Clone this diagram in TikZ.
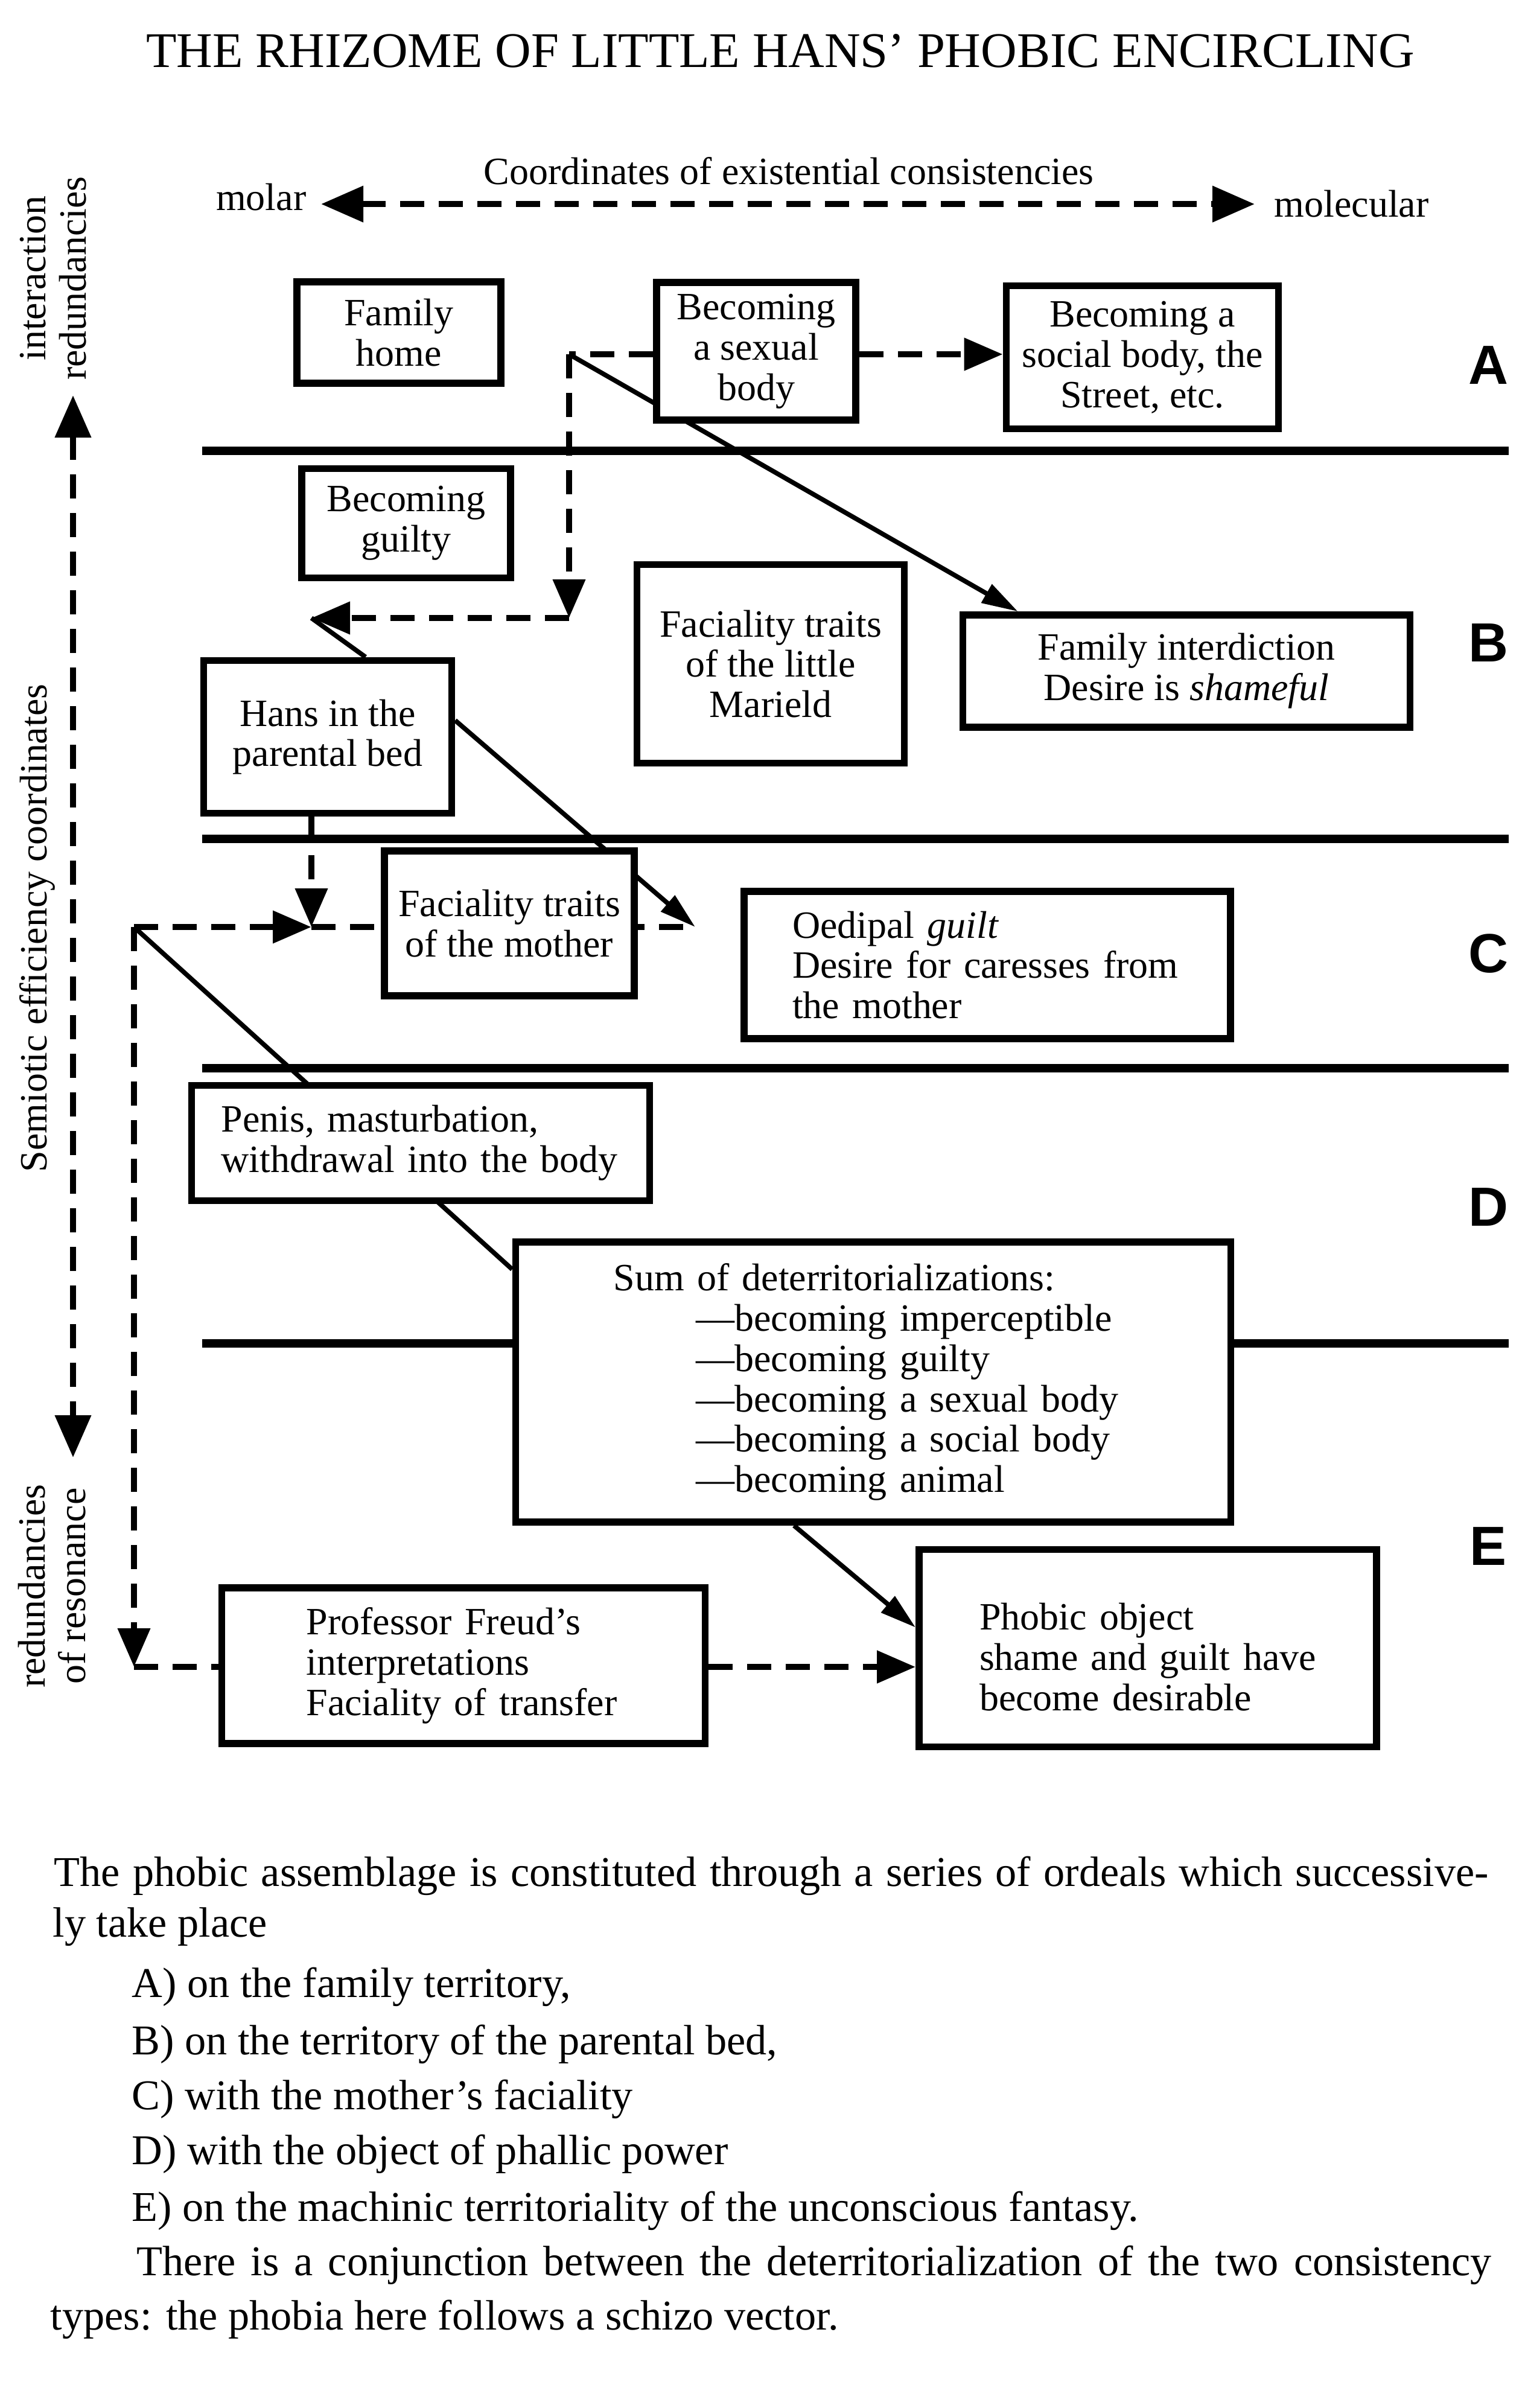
\documentclass[tikz,border=0pt]{standalone}
\usepackage{fontspec}
\setmainfont{Liberation Serif}
\newfontfamily\lettersans{Liberation Sans}
\usetikzlibrary{arrows.meta,calc,backgrounds}
\newcommand{\diagfont}{\fontsize{18.2}{19}\selectfont}
\newcommand{\belowfont}{\fontsize{20}{22}\selectfont}
\newcommand{\titlefont}{\fontsize{23.5}{26}\selectfont}

\begin{document}
\begin{tikzpicture}[
    box/.style={draw, line width=3.3pt, fill=white, align=center, inner sep=0pt, font=\diagfont},
    lbox/.style={box, align=left, inner ysep=0pt},
    sepline/.style={line width=4.2pt},
    ln/.style={line width=2.2pt},
    arr/.style={ln, -{Triangle[length=6mm,width=3.4mm]}},
    dashln/.style={line width=3pt, dash pattern=on 4mm off 2.4mm},
    dasharr/.style={dashln, -{Triangle[length=6.4mm,width=5.2mm]}},
    dblarr/.style={dashln, {Triangle[length=7mm,width=5.8mm]}-{Triangle[length=7mm,width=5.8mm]}},
    side/.style={rotate=90, align=center, inner sep=0pt, font=\diagfont},
    row/.style={inner sep=0pt, font=\lettersans\bfseries\fontsize{26}{26}\selectfont},
    para/.style={anchor=base west, inner sep=0pt, font=\belowfont}
]
\useasboundingbox (0,0) rectangle (25.27,-39.90);

\node[anchor=base, inner sep=0pt, font=\titlefont] (title) at (12.93,-1.12) {THE RHIZOME OF LITTLE HANS’ PHOBIC ENCIRCLING};
\node[anchor=base, inner sep=0pt, font=\diagfont] (coords) at (13.07,-3.06) {Coordinates of existential consistencies};
\node[anchor=base east, inner xsep=2.4mm, inner ysep=0pt, font=\diagfont] (molar) at (5.32,-3.49) {molar};
\node[anchor=base west, inner xsep=3.2mm, inner ysep=0pt, font=\diagfont] (molecular) at (20.79,-3.60) {molecular};

\node[side] (interact) at (0.88,-4.61) {interaction\\redundancies};
\node[side] (semiotic) at (0.62,-15.38) {Semiotic efficiency coordinates};
\node[side] (resonance) at (0.86,-26.28) {redundancies\\of resonance};

\node[box, minimum width=3.38cm, minimum height=1.68cm] (family) at (6.61,-5.51) {Family\\home};
\node[box, minimum width=3.30cm, minimum height=2.28cm] (sexual) at (12.53,-5.82) {Becoming\\a sexual\\body};
\node[box, minimum width=4.51cm, minimum height=2.37cm] (social) at (18.93,-5.92) {Becoming a\\social body, the\\Street, etc.};
\node[box, minimum width=3.46cm, minimum height=1.81cm] (guilty) at (6.73,-8.67) {Becoming\\guilty};
\node[box, minimum width=4.43cm, minimum height=3.29cm] (marield) at (12.77,-11.00) {Faciality traits\\of the little\\Marield};
\node[box, minimum width=7.41cm, minimum height=1.86cm] (interdiction) at (19.66,-11.12) {Family interdiction\\Desire is \textit{shameful}};
\node[box, minimum width=4.11cm, minimum height=2.53cm] (hans) at (5.43,-12.21) {Hans in the\\parental bed};
\node[box, minimum width=4.14cm, minimum height=2.40cm] (mother) at (8.44,-15.30) {Faciality traits\\of the mother};
\node[lbox, text width=6.46cm, inner xsep=0.80cm, minimum height=2.44cm] (oedipal) at (16.36,-15.99) {Oedipal \textit{guilt}\\Desire for caresses from\\the mother};
\node[lbox, text width=6.61cm, inner xsep=0.49cm, minimum height=1.91cm] (penis) at (6.97,-18.94) {Penis, masturbation,\\withdrawal into the body};
\node[lbox, text width=8.61cm, inner xsep=1.62cm, minimum height=4.64cm] (sum) at (14.47,-22.90) {Sum of deterritorializations:\\
    \hspace*{1.37cm}—becoming imperceptible\\
    \hspace*{1.37cm}—becoming guilty\\
    \hspace*{1.37cm}—becoming a sexual body\\
    \hspace*{1.37cm}—becoming a social body\\
    \hspace*{1.37cm}—becoming animal};
\node[lbox, text width=5.21cm, inner xsep=1.40cm, minimum height=2.58cm] (freud) at (7.68,-27.60) {Professor Freud’s\\interpretations\\Faciality of transfer};
\node[lbox, text width=5.58cm, inner xsep=1.00cm, minimum height=3.27cm] (phobic) at (19.02,-27.31) {\rule{0pt}{0.74cm}Phobic object\\shame and guilt have\\become desirable};

\node[row] (rowA) at (24.66,-6.05) {A};
\node[row] (rowB) at (24.66,-10.65) {B};
\node[row] (rowC) at (24.66,-15.80) {C};
\node[row] (rowD) at (24.66,-20.00) {D};
\node[row] (rowE) at (24.66,-25.62) {E};

\coordinate (c1) at (9.43,-5.87);
\coordinate (c2) at (9.43,-10.24);
\coordinate (g) at (5.16,-10.24);
\coordinate (c5) at (2.22,-15.36);
\coordinate (j) at (5.16,-15.36);
\coordinate (m) at (11.52,-15.36);
\coordinate (c6) at (2.22,-27.62);
\coordinate (vtop) at (1.21,-6.55);
\coordinate (vbot) at (1.21,-24.15);

\begin{scope}[on background layer]
\draw[sepline] (3.35,-7.47) -- (25.0,-7.47);
\draw[sepline] (3.35,-13.90) -- (25.0,-13.90);
\draw[sepline] (3.35,-17.70) -- (25.0,-17.70);
\draw[sepline] (3.35,-22.26) -- (25.0,-22.26);

\draw[dblarr] (molecular.west -| molar.east) -- (molecular.west);
\draw[dblarr] (vtop) -- (vbot);

\draw[dasharr] (c1 -| sexual.east) -- (c1 -| social.west);
\draw[dashln] (c1 -| sexual.west) -- (c1);
\draw[dasharr] (c1) -- (c2);
\draw[dasharr] (c2) -- (g);
\draw[arr] (c1) -- ($(interdiction.north west)+(0.97,0)$);
\draw[ln] ($(hans.north west)+(2.74,0)$) -- (g);

\draw[dasharr] (hans.south -| j) -- (j);
\draw[dasharr] (c5) -- (j);
\draw[dashln] (j) -- (m);
\draw[arr] ($(hans.north east)+(0,-1.05)$) -- (m);

\draw[ln] (c5) -- ($(sum.north west)+(0,-0.51)$);
\draw[arr] ($(sum.south west)+(4.67,0)$) -- ($(phobic.north west)+(0,-1.35)$);

\draw[dasharr] (c5) -- (c6);
\draw[dashln] (c6) -- (c6 -| freud.west);
\draw[dasharr] (c6 -| freud.east) -- (c6 -| phobic.west);
\end{scope}

\node[para] (p1) at (0.89,-31.25) {\makebox[23.77cm][s]{The phobic assemblage is constituted through a series of ordeals which successive-}};
\node[para] (p2) at (0.87,-32.09) {ly take place};
\node[para] (p3) at (2.18,-33.09) {A) on the family territory,};
\node[para] (p4) at (2.18,-34.04) {B) on the territory of the parental bed,};
\node[para] (p5) at (2.18,-34.95) {C) with the mother’s faciality};
\node[para] (p6) at (2.18,-35.86) {D) with the object of phallic power};
\node[para] (p7) at (2.18,-36.80) {E) on the machinic territoriality of the unconscious fantasy.};
\node[para] (p8) at (2.26,-37.70) {\makebox[22.45cm][s]{There is a conjunction between the deterritorialization of the two consistency}};
\node[para] (p9) at (0.83,-38.60) {types: the phobia here follows a schizo vector.};
\end{tikzpicture}
\end{document}
